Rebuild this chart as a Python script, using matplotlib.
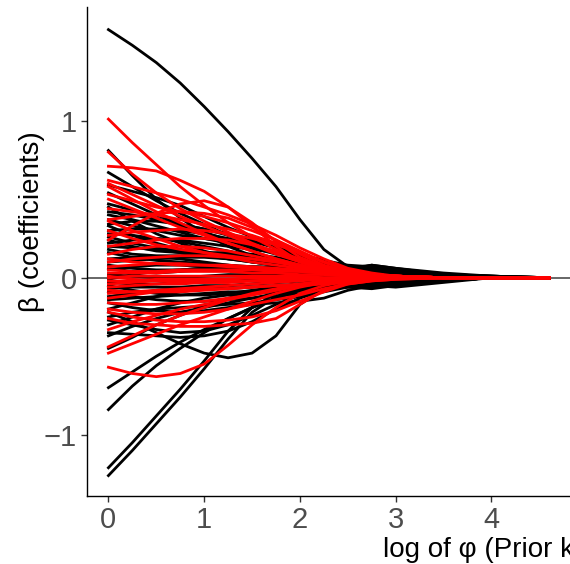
import matplotlib
matplotlib.use("Agg")
import matplotlib.pyplot as plt

plt.rcParams['font.family'] = ['Liberation Sans', 'DejaVu Sans']

# x positions (log of phi) at which each coefficient path was read
log_phi = [0, 0.25, 0.5, 0.75, 1.0, 1.25, 1.5, 1.75, 2.0, 2.25, 2.5, 2.75, 3.0, 3.5, 4.0, 4.6]

black_paths = [
    [1.58, 1.48, 1.37, 1.24, 1.09, 0.93, 0.76, 0.58, 0.37, 0.18, 0.07, 0.04, 0.04, 0.02, 0.005, 0],
    [0.81, 0.65, 0.50, 0.38, 0.28, 0.20, 0.14, 0.10, 0.07, 0.05, 0.04, 0.04, 0.02, 0.01, 0, 0],
    [0.67, 0.58, 0.49, 0.41, 0.34, 0.27, 0.21, 0.16, 0.11, 0.07, 0.05, 0.04, 0.02, 0.01, 0, 0],
    [0.59, 0.55, 0.51, 0.46, 0.39, 0.32, 0.26, 0.21, 0.15, 0.10, 0.06, 0.05, 0.03, 0.01, 0, 0],
    [0.54, 0.47, 0.40, 0.34, 0.29, 0.24, 0.19, 0.15, 0.12, 0.09, 0.06, 0.05, 0.03, 0.01, 0, 0],
    [0.47, 0.43, 0.38, 0.33, 0.28, 0.24, 0.20, 0.16, 0.12, 0.09, 0.06, 0.05, 0.03, 0.01, 0, 0],
    [0.45, 0.36, 0.28, 0.22, 0.17, 0.13, 0.10, 0.08, 0.06, 0.05, 0.04, 0.04, 0.02, 0.01, 0, 0],
    [0.42, 0.40, 0.37, 0.34, 0.31, 0.28, 0.24, 0.19, 0.14, 0.10, 0.07, 0.06, 0.04, 0.02, 0, 0],
    [0.40, 0.37, 0.33, 0.29, 0.25, 0.22, 0.19, 0.16, 0.13, 0.10, 0.07, 0.06, 0.04, 0.02, 0, 0],
    [0.37, 0.33, 0.30, 0.27, 0.25, 0.23, 0.20, 0.17, 0.13, 0.09, 0.06, 0.05, 0.03, 0.01, 0, 0],
    [0.34, 0.36, 0.36, 0.34, 0.31, 0.27, 0.23, 0.19, 0.15, 0.11, 0.07, 0.06, 0.04, 0.02, 0, 0],
    [0.33, 0.27, 0.22, 0.18, 0.15, 0.12, 0.10, 0.08, 0.06, 0.05, 0.04, 0.04, 0.02, 0.01, 0, 0],
    [0.30, 0.31, 0.31, 0.30, 0.28, 0.25, 0.21, 0.16, 0.12, 0.08, 0.06, 0.06, 0.04, 0.01, 0, 0],
    [0.28, 0.27, 0.25, 0.23, 0.20, 0.17, 0.14, 0.12, 0.09, 0.07, 0.06, 0.08, 0.06, 0.02, 0, 0],
    [0.26, 0.22, 0.19, 0.17, 0.16, 0.16, 0.15, 0.13, 0.10, 0.07, 0.05, 0.05, 0.03, 0.01, 0, 0],
    [0.24, 0.20, 0.17, 0.16, 0.15, 0.14, 0.13, 0.11, 0.08, 0.06, 0.05, 0.06, 0.04, 0.02, 0, 0],
    [0.22, 0.24, 0.25, 0.24, 0.22, 0.20, 0.18, 0.16, 0.14, 0.11, 0.08, 0.07, 0.05, 0.02, 0, 0],
    [0.20, 0.19, 0.18, 0.16, 0.14, 0.12, 0.10, 0.08, 0.06, 0.05, 0.05, 0.06, 0.04, 0.02, 0, 0],
    [0.18, 0.15, 0.14, 0.14, 0.15, 0.15, 0.14, 0.12, 0.10, 0.08, 0.06, 0.07, 0.05, 0.02, 0.01, 0],
    [0.16, 0.13, 0.11, 0.10, 0.09, 0.08, 0.07, 0.06, 0.05, 0.04, 0.04, 0.05, 0.04, 0.02, 0.01, 0],
    [0.12, 0.13, 0.13, 0.12, 0.10, 0.08, 0.06, 0.05, 0.04, 0.04, 0.05, 0.07, 0.05, 0.02, 0.01, 0],
    [0.10, 0.11, 0.12, 0.13, 0.13, 0.12, 0.11, 0.09, 0.07, 0.05, 0.04, 0.04, 0.03, 0.01, 0, 0],
    [0.08, 0.06, 0.05, 0.05, 0.06, 0.06, 0.05, 0.04, 0.03, 0.03, 0.04, 0.05, 0.04, 0.02, 0.01, 0],
    [0.06, 0.04, 0.03, 0.04, 0.05, 0.06, 0.07, 0.07, 0.06, 0.05, 0.05, 0.08, 0.06, 0.03, 0.01, 0],
    [0.05, 0.07, 0.08, 0.08, 0.07, 0.05, 0.04, 0.03, 0.03, 0.03, 0.03, 0.04, 0.03, 0.01, 0, 0],
    [0.02, 0.01, 0.0, 0.0, 0.01, 0.02, 0.02, 0.02, 0.02, 0.02, 0.02, 0.03, 0.02, 0.01, 0, 0],
    [-0.01, 0.02, 0.04, 0.05, 0.06, 0.06, 0.06, 0.05, 0.05, 0.04, 0.04, 0.06, 0.05, 0.02, 0, 0],
    [-0.03, -0.04, -0.04, -0.03, -0.02, -0.02, -0.01, 0, 0, 0.01, 0.02, 0.02, 0.01, 0, 0, 0],
    [-0.05, -0.08, -0.10, -0.11, -0.11, -0.10, -0.08, -0.06, -0.04, -0.02, -0.01, 0.0, 0.0, 0, 0, 0],
    [-0.07, -0.06, -0.06, -0.06, -0.05, -0.05, -0.04, -0.03, -0.02, -0.01, -0.01, -0.02, -0.02, -0.01, 0, 0],
    [-0.09, -0.12, -0.14, -0.15, -0.15, -0.14, -0.13, -0.12, -0.10, -0.08, -0.05, -0.06, -0.04, -0.02, 0, 0],
    [-0.12, -0.10, -0.08, -0.07, -0.07, -0.07, -0.06, -0.05, -0.04, -0.03, -0.03, -0.06, -0.05, -0.02, 0, 0],
    [-0.14, -0.13, -0.12, -0.11, -0.10, -0.09, -0.09, -0.08, -0.08, -0.07, -0.06, -0.07, -0.05, -0.02, 0, 0],
    [-0.16, -0.19, -0.21, -0.22, -0.21, -0.19, -0.17, -0.16, -0.15, -0.13, -0.08, -0.05, -0.06, -0.03, 0, 0],
    [-0.20, -0.16, -0.12, -0.09, -0.07, -0.05, -0.04, -0.03, -0.02, -0.02, -0.02, -0.03, -0.04, -0.01, 0, 0],
    [-0.22, -0.28, -0.35, -0.42, -0.48, -0.51, -0.48, -0.37, -0.17, -0.07, -0.04, -0.03, -0.02, -0.01, 0, 0],
    [-0.25, -0.22, -0.20, -0.19, -0.18, -0.17, -0.16, -0.14, -0.12, -0.09, -0.06, -0.05, -0.04, -0.02, 0, 0],
    [-0.27, -0.30, -0.33, -0.35, -0.34, -0.30, -0.24, -0.17, -0.11, -0.07, -0.04, -0.03, -0.03, -0.01, 0, 0],
    [-0.30, -0.25, -0.20, -0.16, -0.13, -0.11, -0.10, -0.09, -0.07, -0.05, -0.03, -0.04, -0.05, -0.02, 0, 0],
    [-0.35, -0.36, -0.37, -0.38, -0.37, -0.34, -0.28, -0.20, -0.13, -0.08, -0.05, -0.04, -0.03, -0.01, 0, 0],
    [-0.37, -0.31, -0.26, -0.22, -0.19, -0.16, -0.13, -0.10, -0.08, -0.06, -0.04, -0.06, -0.05, -0.02, 0, 0],
    [-0.45, -0.38, -0.30, -0.24, -0.18, -0.13, -0.09, -0.06, -0.04, -0.03, -0.02, -0.03, -0.04, -0.02, 0, 0],
    [-0.70, -0.60, -0.50, -0.41, -0.33, -0.26, -0.19, -0.13, -0.08, -0.05, -0.03, -0.02, -0.02, -0.01, 0, 0],
    [-0.84, -0.69, -0.56, -0.45, -0.35, -0.26, -0.19, -0.13, -0.08, -0.05, -0.03, -0.02, -0.02, 0, 0, 0],
    [-1.21, -1.05, -0.88, -0.71, -0.53, -0.34, -0.19, -0.10, -0.05, -0.03, -0.02, -0.01, 0, 0, 0, 0],
    [-1.26, -1.10, -0.93, -0.76, -0.58, -0.39, -0.22, -0.12, -0.06, -0.04, -0.02, -0.01, 0, 0, 0, 0],
]

red_paths = [
    [1.01, 0.86, 0.72, 0.58, 0.46, 0.35, 0.26, 0.18, 0.11, 0.07, 0.04, 0.02, 0.01, 0, 0, 0],
    [0.80, 0.66, 0.54, 0.44, 0.36, 0.29, 0.22, 0.16, 0.11, 0.07, 0.04, 0.02, 0.01, 0, 0, 0],
    [0.71, 0.70, 0.68, 0.62, 0.55, 0.45, 0.35, 0.23, 0.13, 0.07, 0.04, 0.02, 0.01, 0, 0, 0],
    [0.62, 0.58, 0.54, 0.50, 0.45, 0.40, 0.34, 0.27, 0.19, 0.12, 0.06, 0.03, 0.01, 0, 0, 0],
    [0.60, 0.53, 0.46, 0.39, 0.33, 0.27, 0.21, 0.15, 0.10, 0.06, 0.03, 0.02, 0.01, 0, 0, 0],
    [0.58, 0.50, 0.42, 0.35, 0.28, 0.22, 0.17, 0.12, 0.08, 0.05, 0.03, 0.02, 0.01, 0, 0, 0],
    [0.53, 0.49, 0.45, 0.42, 0.39, 0.35, 0.30, 0.24, 0.17, 0.10, 0.05, 0.02, 0.01, 0, 0, 0],
    [0.50, 0.44, 0.38, 0.32, 0.27, 0.22, 0.17, 0.12, 0.08, 0.05, 0.03, 0.02, 0.01, 0, 0, 0],
    [0.44, 0.42, 0.40, 0.37, 0.34, 0.31, 0.27, 0.22, 0.16, 0.10, 0.05, 0.02, 0.01, 0, 0, 0],
    [0.37, 0.39, 0.41, 0.42, 0.41, 0.38, 0.32, 0.24, 0.15, 0.08, 0.04, 0.02, 0.01, 0, 0, 0],
    [0.36, 0.30, 0.25, 0.20, 0.16, 0.13, 0.10, 0.08, 0.06, 0.04, 0.02, 0.01, 0, 0, 0, 0],
    [0.30, 0.25, 0.21, 0.18, 0.16, 0.14, 0.12, 0.10, 0.07, 0.05, 0.03, 0.02, 0.01, 0, 0, 0],
    [0.27, 0.29, 0.30, 0.31, 0.30, 0.28, 0.25, 0.21, 0.16, 0.10, 0.05, 0.02, 0.01, 0, 0, 0],
    [0.24, 0.33, 0.41, 0.47, 0.49, 0.45, 0.33, 0.20, 0.10, 0.05, 0.03, 0.02, 0.01, 0, 0, 0],
    [0.20, 0.22, 0.24, 0.25, 0.25, 0.24, 0.21, 0.17, 0.12, 0.07, 0.04, 0.02, 0.01, 0, 0, 0],
    [0.15, 0.18, 0.20, 0.20, 0.19, 0.17, 0.14, 0.11, 0.08, 0.05, 0.03, 0.01, 0, 0, 0, 0],
    [0.12, 0.10, 0.09, 0.08, 0.08, 0.08, 0.07, 0.06, 0.05, 0.03, 0.02, 0.01, 0.01, 0, 0, 0],
    [0.10, 0.12, 0.13, 0.14, 0.14, 0.13, 0.12, 0.10, 0.08, 0.05, 0.03, 0.01, 0, 0, 0, 0],
    [0.07, 0.08, 0.09, 0.09, 0.08, 0.07, 0.06, 0.05, 0.04, 0.03, 0.02, 0.01, 0, 0, 0, 0],
    [0.05, 0.04, 0.04, 0.05, 0.05, 0.05, 0.05, 0.04, 0.04, 0.03, 0.02, 0.01, 0, 0, 0, 0],
    [0.03, 0.03, 0.03, 0.04, 0.04, 0.04, 0.03, 0.03, 0.02, 0.02, 0.01, 0.01, 0, 0, 0, 0],
    [0.01, -0.01, -0.02, -0.03, -0.03, -0.03, -0.02, -0.02, -0.01, -0.01, 0, 0, 0, 0, 0, 0],
    [0.0, 0.01, 0.01, 0.01, 0.01, 0.01, 0.01, 0.01, 0.01, 0.0, 0, 0, 0, 0, 0, 0],
    [-0.02, -0.02, -0.01, -0.01, -0.01, -0.01, 0, 0, 0, 0, 0, 0, 0, 0, 0, 0],
    [-0.04, -0.03, -0.02, -0.02, -0.02, -0.02, -0.02, -0.01, -0.01, -0.01, 0, 0, 0, 0, 0, 0],
    [-0.06, -0.05, -0.04, -0.04, -0.03, -0.03, -0.02, -0.02, -0.01, -0.01, 0, 0, 0, 0, 0, 0],
    [-0.08, -0.09, -0.09, -0.09, -0.08, -0.07, -0.06, -0.05, -0.04, -0.03, -0.02, -0.01, 0, 0, 0, 0],
    [-0.10, -0.09, -0.08, -0.07, -0.06, -0.05, -0.04, -0.03, -0.02, -0.01, -0.01, 0, 0, 0, 0, 0],
    [-0.13, -0.11, -0.09, -0.08, -0.07, -0.07, -0.06, -0.05, -0.05, -0.04, -0.03, -0.01, 0, 0, 0, 0],
    [-0.16, -0.17, -0.17, -0.16, -0.15, -0.13, -0.11, -0.08, -0.05, -0.03, -0.02, -0.01, 0, 0, 0, 0],
    [-0.20, -0.22, -0.23, -0.23, -0.22, -0.20, -0.17, -0.14, -0.11, -0.07, -0.04, -0.02, -0.01, 0, 0, 0],
    [-0.22, -0.25, -0.27, -0.28, -0.28, -0.27, -0.25, -0.21, -0.15, -0.09, -0.04, -0.02, -0.01, 0, 0, 0],
    [-0.26, -0.29, -0.30, -0.31, -0.31, -0.30, -0.29, -0.26, -0.17, -0.08, -0.03, -0.01, 0, 0, 0, 0],
    [-0.33, -0.28, -0.24, -0.20, -0.17, -0.14, -0.11, -0.08, -0.05, -0.03, -0.01, 0, 0, 0, 0, 0],
    [-0.44, -0.37, -0.30, -0.24, -0.19, -0.14, -0.10, -0.07, -0.04, -0.02, -0.01, 0, 0, 0, 0, 0],
    [-0.48, -0.42, -0.36, -0.30, -0.25, -0.20, -0.15, -0.10, -0.06, -0.03, -0.01, 0, 0, 0, 0, 0],
    [-0.57, -0.61, -0.63, -0.61, -0.55, -0.43, -0.30, -0.19, -0.10, -0.05, -0.02, -0.01, 0, 0, 0, 0],
]

x_ticks = [0, 1, 2, 3, 4]
y_ticks = [-1, 0, 1]
y_tick_labels = ["\u22121", "0", "1"]

W, H = 570, 564
fig = plt.figure(figsize=(W / 100, H / 100), dpi=100)
ax = fig.add_axes([86.5 / W, 1 - 496 / H, (W - 86.5) / W, (496 - 7) / H])

ax.axhline(0, color="#5a5a5a", lw=1.3, zorder=1)
for p in black_paths:
    ax.plot(log_phi, p, color="black", lw=2.0, solid_joinstyle="round", zorder=2)
for p in red_paths:
    ax.plot(log_phi, p, color="#ff0000", lw=2.0, solid_joinstyle="round", zorder=3)

ax.set_xlim(-0.229, 4.82)
ax.set_ylim(-1.39, 1.724)
ax.set_xticks(x_ticks)
ax.set_xticklabels([str(t) for t in x_ticks])
ax.set_yticks(y_ticks)
ax.set_yticklabels(y_tick_labels)
ax.tick_params(axis="both", labelsize=21, labelcolor="#4d4d4d", color="#333333",
               length=4, width=1, pad=3)
for s in ["top", "right"]:
    ax.spines[s].set_visible(False)
for s in ["left", "bottom"]:
    ax.spines[s].set_color("black")
    ax.spines[s].set_linewidth(1.0)

fig.text(383 / W, 1 - 557 / H, "log of φ (Prior knowledge)", fontsize=20,
         color="black", ha="left", va="baseline")
fig.text(32 / W, 1 - 222 / H, "β (coefficients)", fontsize=20, color="black",
         rotation=90, ha="center", va="center")

fig.savefig("out.png", dpi=100)
